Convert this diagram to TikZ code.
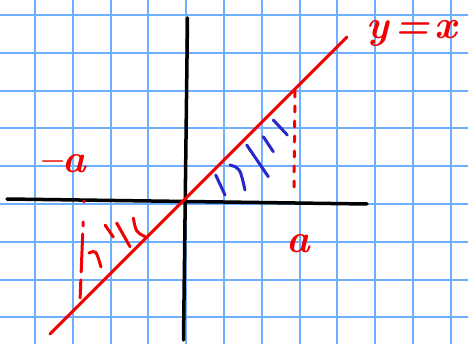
\documentclass[tikz,border=0pt]{standalone}
\usepackage{fontspec}
\begin{document}
\begin{tikzpicture}[x=1pt,y=-1pt,
  gridline/.style={draw={rgb,255:red,110;green,175;blue,255},line width=2pt},
  axisline/.style={draw=black,line width=3.5pt,line cap=round},
  redline/.style={draw={rgb,255:red,240;green,0;blue,0},line width=3pt,line cap=round},
  redhatch/.style={draw={rgb,255:red,240;green,0;blue,0},line width=3pt,line cap=round},
  bluehatch/.style={draw={rgb,255:red,40;green,40;blue,200},line width=3pt,line cap=round},
  reddash/.style={draw={rgb,255:red,240;green,0;blue,0},line width=3pt,line cap=round,dash pattern=on 6pt off 9pt},
  hand/.style={text={rgb,255:red,240;green,0;blue,0},font=\fontsize{40}{40}\selectfont\bfseries\itshape,inner sep=0pt}]
\useasboundingbox (0,0) rectangle (468,344);
\fill[white] (0,0) rectangle (468,344);
% grid
\foreach \i in {0,...,11} \draw[gridline] ({35+37.8*\i},0) -- ({35+37.8*\i},344);
\foreach \j in {0,...,8} \draw[gridline] (0,{15+37.8*\j}) -- (468,{15+37.8*\j});
% axes
\coordinate (vt) at (187.5,18);
\coordinate (vb) at (183.5,340);
\coordinate (hl) at (7,199);
\coordinate (hr) at (367,204);
\draw[axisline] (vt) -- (vb);
\draw[axisline] (hl) -- (hr);
% dashed verticals
\coordinate (rdt) at (295,91);
\coordinate (rdb) at (294,190);
\draw[reddash] (rdt) -- (rdb);
\coordinate (ldt) at (84,201);
\coordinate (ldb) at (80,301);
\draw[reddash,dash pattern=on 1pt off 20pt on 4pt off 8pt on 38pt off 8pt on 18pt off 60pt] (ldt) -- (ldb);
% blue hatches
\draw[bluehatch] (215.7,175) -- (225,195);
\draw[bluehatch] (230,165) .. controls (240,168) .. (245,190);
\draw[bluehatch] (246.7,145) -- (268.3,176.7);
\draw[bluehatch] (263.3,136.7) -- (273.3,151.7);
\draw[bluehatch] (273.3,120) -- (287.3,135);
% red hatches
\draw[redhatch] (89,253) .. controls (96,250) .. (101,267);
\draw[redhatch] (105,225) -- (113.3,237);
\draw[redhatch] (116.7,223) -- (130,246.7);
\draw[redhatch] (133.3,218) .. controls (136,232) .. (145,236.7);
% line y = x
\coordinate (ls) at (50,334);
\coordinate (le) at (347,37);
\draw[redline] (ls) -- (le);
% labels
\node[hand] (yx) at (412,34) {y\hspace{5pt}=\hspace{5pt}x};
\node[hand] (ma) at (62,164) {–a};
\node[hand] (pa) at (298,244) {a};
\end{tikzpicture}
\end{document}
